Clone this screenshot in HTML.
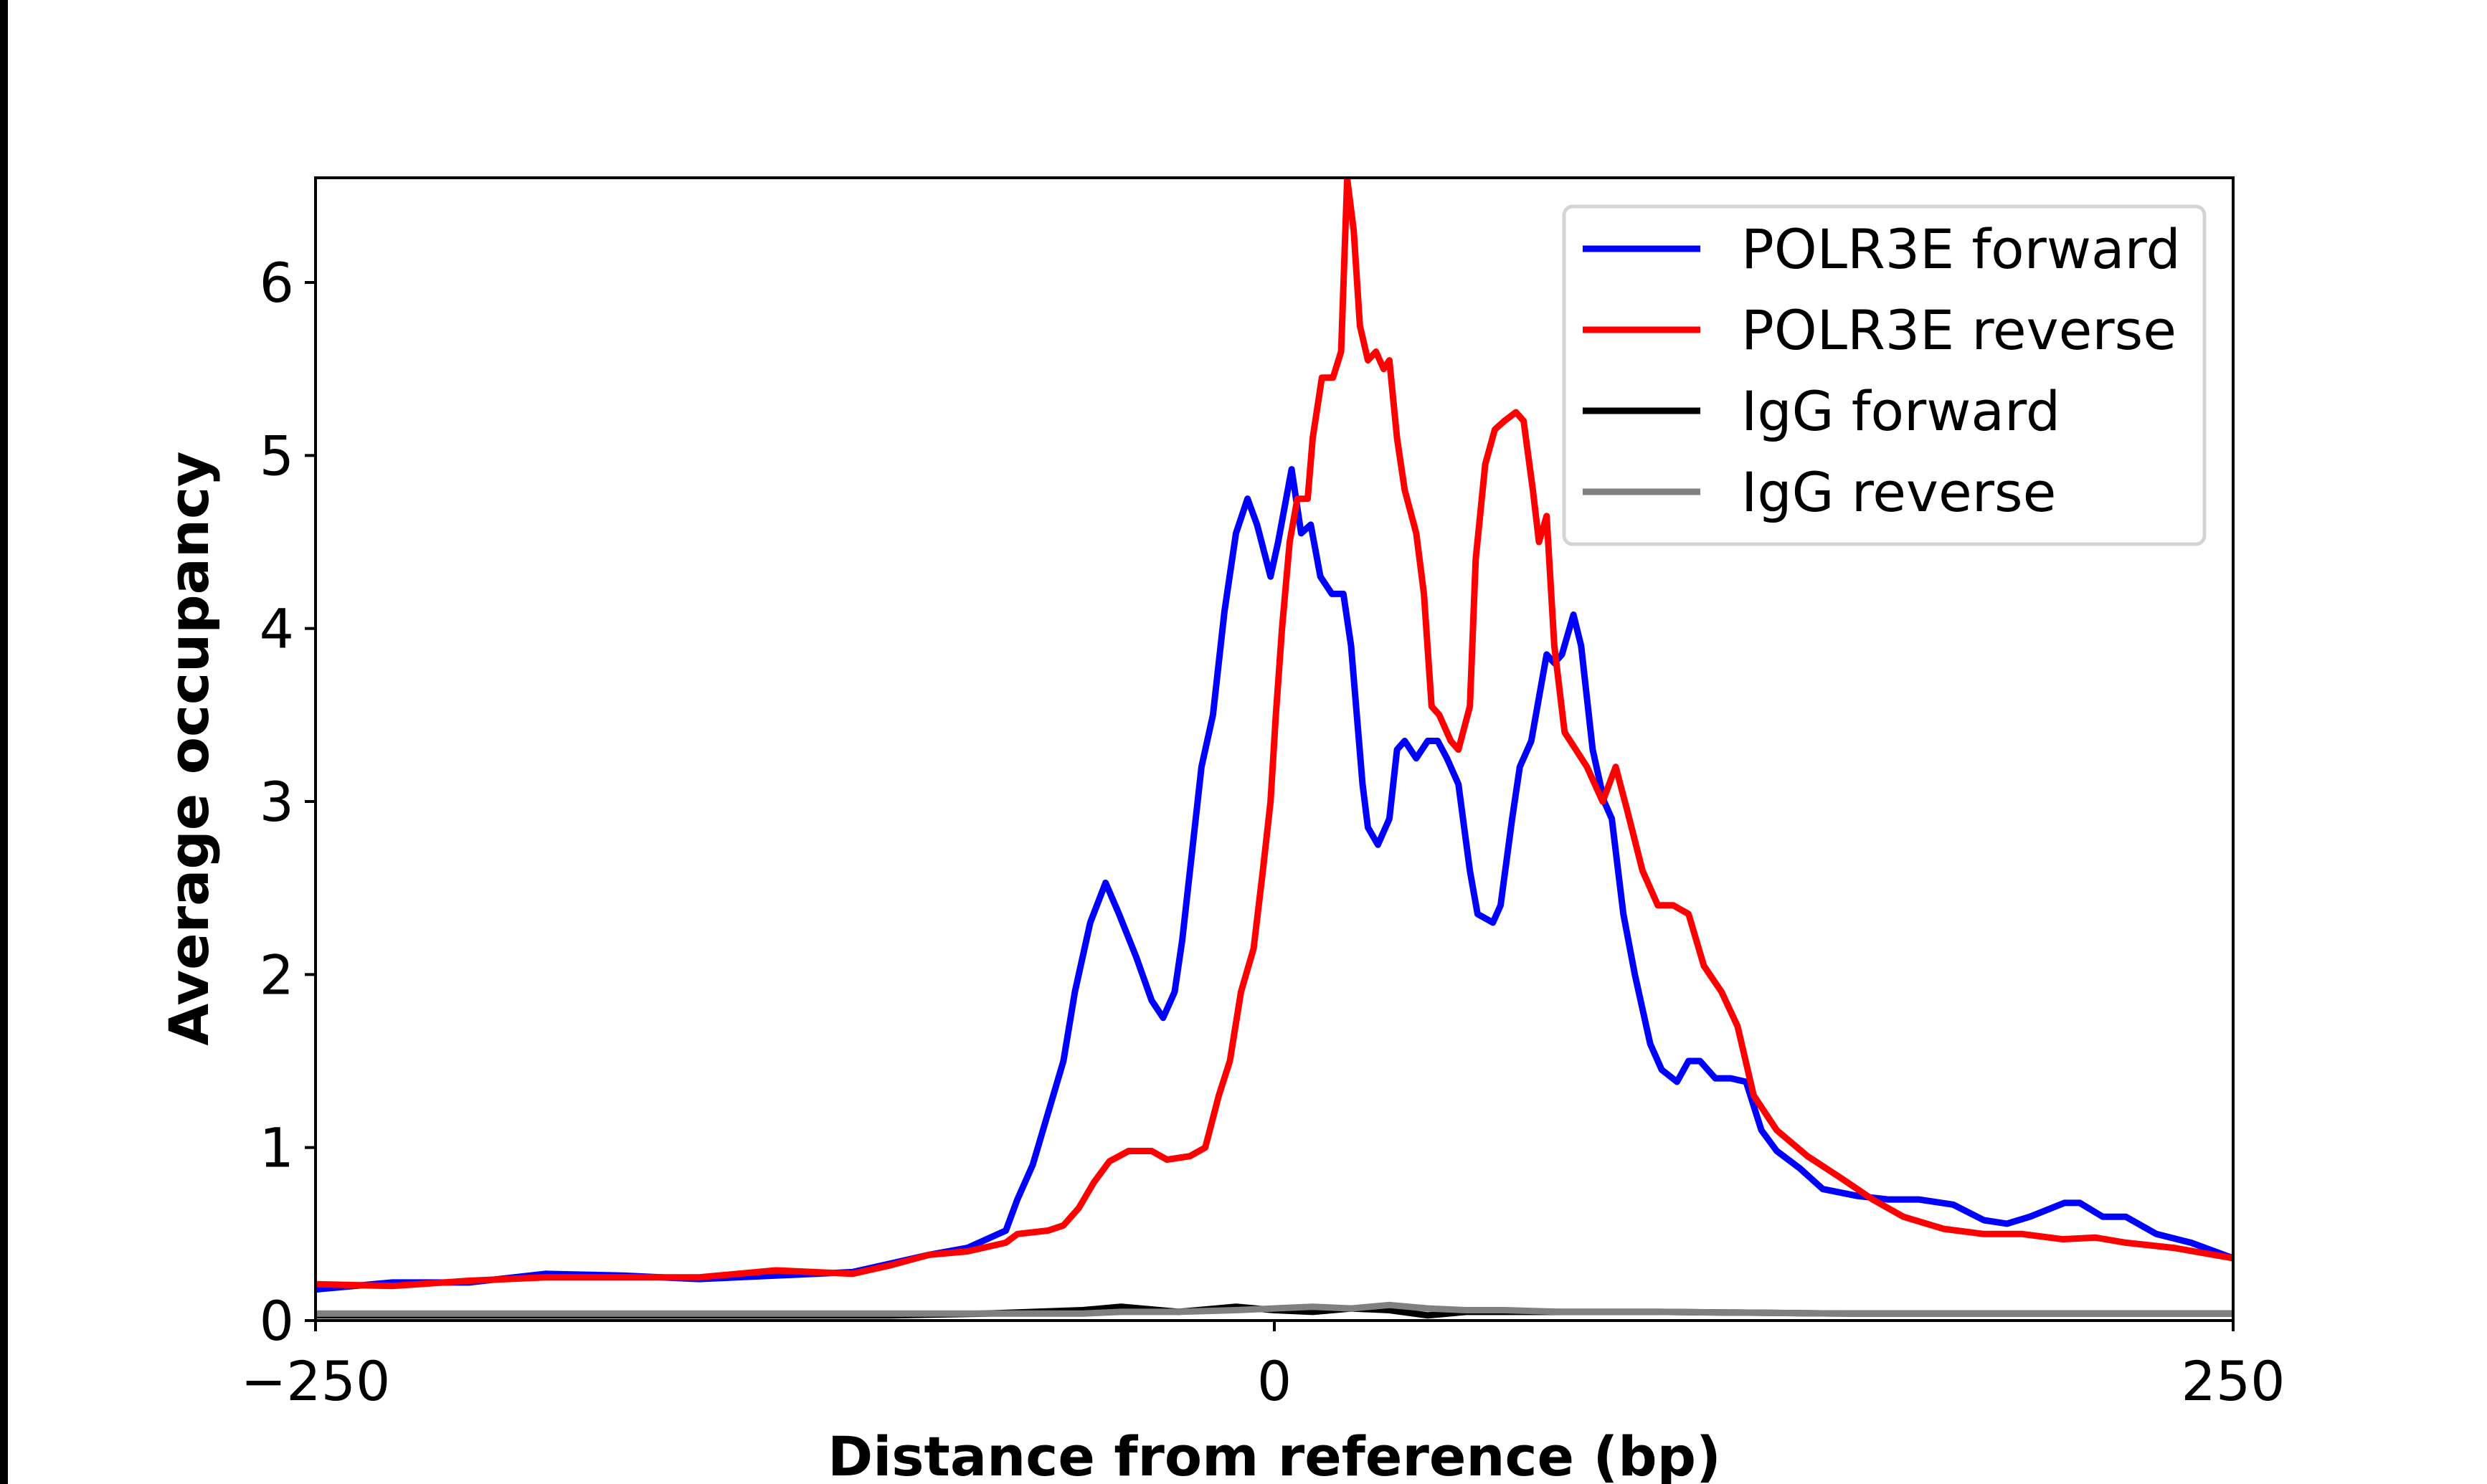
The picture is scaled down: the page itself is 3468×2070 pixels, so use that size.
<!DOCTYPE html>
<html><head><meta charset="utf-8"><style>
html,body{margin:0;padding:0;background:#fff;}
svg{display:block;}
text{font-family:"DejaVu Sans","Liberation Sans",sans-serif;fill:#000;}
</style></head><body>
<svg id="chart" width="3468" height="2070" viewBox="0 0 3468 2070" xmlns="http://www.w3.org/2000/svg">
<rect x="0" y="0" width="3468" height="2070" fill="#fff"/>
<rect x="0" y="0" width="11" height="2070" fill="#000"/>
<g id="plot"></g>
<g id="axes"></g>
<text x="1777" y="2058" font-size="76" font-weight="bold" text-anchor="middle">Distance from reference (bp)</text>
<text transform="translate(290,1044) rotate(-90)" font-size="76" font-weight="bold" text-anchor="middle">Average occupancy</text>
<g>
<rect x="2181" y="288" width="893" height="471" rx="12" fill="#fff" fill-opacity="0.8" stroke="#d4d4d4" stroke-width="5"/>
<line x1="2207" y1="347" x2="2371" y2="347" stroke="#0000ff" stroke-width="9"/>
<text x="2428" y="374" font-size="76">POLR3E forward</text>
<line x1="2207" y1="460" x2="2371" y2="460" stroke="#ff0000" stroke-width="9"/>
<text x="2428" y="487" font-size="76">POLR3E reverse</text>
<line x1="2207" y1="573" x2="2371" y2="573" stroke="#000" stroke-width="9"/>
<text x="2428" y="600" font-size="76">IgG forward</text>
<line x1="2207" y1="686" x2="2371" y2="686" stroke="#808080" stroke-width="9"/>
<text x="2428" y="713" font-size="76">IgG reverse</text>
</g>
</svg>
<script>
const fwdX=[-250,-230,-210,-190,-170,-150,-130,-110,-100,-90,-80,-70,-67,-63,-59,-55,-52,-48,-44,-40.5,-36,-32,-29,-26,-24,-21,-19,-16,-13,-10,-7,-4.5,-1,1,4.5,7,9.5,12,15,18,20,23,24.4,27,30,32,34,37,40,42.6,45,48,51,53,57,59,62,64,67,69,71,73,75,78,80,83,86,88,91,94,98,101,105,108,111,115,119,123,127,131,137,143,152,160,168,177,185,191,197,206,210,216,222,230,239,250];
const fwdY=[0.18,0.22,0.22,0.27,0.26,0.24,0.26,0.28,0.33,0.38,0.42,0.52,0.7,0.9,1.2,1.5,1.9,2.3,2.53,2.35,2.1,1.85,1.75,1.9,2.2,2.8,3.2,3.5,4.1,4.55,4.75,4.6,4.3,4.5,4.92,4.55,4.6,4.3,4.2,4.2,3.9,3.1,2.85,2.75,2.9,3.3,3.35,3.25,3.35,3.35,3.25,3.1,2.6,2.35,2.3,2.4,2.9,3.2,3.35,3.6,3.85,3.8,3.85,4.08,3.9,3.3,3.0,2.9,2.35,2.0,1.6,1.45,1.38,1.5,1.5,1.4,1.4,1.38,1.1,0.98,0.88,0.76,0.72,0.7,0.7,0.67,0.58,0.56,0.6,0.68,0.68,0.6,0.6,0.5,0.45,0.36];
const revX=[-250,-230,-210,-190,-170,-150,-130,-110,-100,-90,-80,-70,-67,-59,-55,-51,-47,-43,-38,-32,-28,-22,-18,-14.5,-11.6,-8.7,-5.4,-3,-1,0.4,2,4,6,8.7,10,12.4,15.3,17.4,19,20.7,22.3,24.4,26.5,28.5,30,32,34,37,39,41,43,46,48,51,52.5,55,57.5,60,63,65,67.4,69,71,73,75.7,78.6,81.5,85.6,89,92,96,100,104,108,112,116.6,120.8,125,131,139,148,156,164,174.5,185,195,205.5,214,222,234.5,250];
const revY=[0.21,0.2,0.23,0.25,0.25,0.25,0.29,0.27,0.32,0.38,0.4,0.45,0.5,0.52,0.55,0.65,0.8,0.92,0.98,0.98,0.93,0.95,1.0,1.3,1.5,1.9,2.15,2.6,3.0,3.5,4.0,4.5,4.75,4.75,5.1,5.45,5.45,5.6,6.6,6.3,5.75,5.55,5.6,5.5,5.55,5.1,4.8,4.55,4.2,3.55,3.5,3.35,3.3,3.55,4.4,4.95,5.15,5.2,5.25,5.2,4.8,4.5,4.65,3.9,3.4,3.3,3.2,3.0,3.2,2.95,2.6,2.4,2.4,2.35,2.05,1.9,1.7,1.3,1.1,0.95,0.82,0.7,0.6,0.53,0.5,0.5,0.47,0.48,0.45,0.42,0.36];
const iggX=[-250,-200,-150,-100,-75,-50,-40,-25,-10,0,10,20,30,40,50,60,75,100,150,200,250];
const iggFwdY=[0.03,0.03,0.03,0.03,0.04,0.06,0.08,0.05,0.08,0.06,0.05,0.07,0.06,0.03,0.05,0.05,0.05,0.05,0.04,0.04,0.04];
const iggRevY=[0.04,0.04,0.04,0.04,0.04,0.04,0.05,0.05,0.06,0.07,0.08,0.07,0.09,0.07,0.06,0.06,0.05,0.05,0.04,0.04,0.04];
const xTicks=[-250,0,250];
const xTickLabels=["\u2212250","0","250"];
const yTicks=[0,1,2,3,4,5,6];

const L=440,R=3114,T=248,B=1842,XMIN=-250,XMAX=250,YMIN=0,YMAX=6.605;
const sx=v=>L+(v-XMIN)/(XMAX-XMIN)*(R-L);
const sy=v=>B-(v-YMIN)/(YMAX-YMIN)*(B-T);
const NS="http://www.w3.org/2000/svg";
const plot=document.getElementById('plot'), axes=document.getElementById('axes');
function mk(tag,attrs,parent){const e=document.createElementNS(NS,tag);for(const k in attrs)e.setAttribute(k,attrs[k]);parent.appendChild(e);return e;}
const clip=mk('clipPath',{id:'pc'},document.getElementById('chart'));
mk('rect',{x:L,y:T,width:R-L,height:B-T},clip);
function series(xs,ys,color,name){
  const d=xs.map((x,i)=>(i?'L':'M')+sx(x).toFixed(1)+' '+sy(ys[i]).toFixed(1)).join(' ');
  const p=mk('path',{d:d,fill:'none',stroke:color,'stroke-width':9,'stroke-linejoin':'round','clip-path':'url(#pc)'},plot);
  
  
}
series(iggX,iggFwdY,'#000000','series-igg-forward');
series(iggX,iggRevY,'#808080','series-igg-reverse');
series(fwdX,fwdY,'#0000ff','series-polr3e-forward');
series(revX,revY,'#ff0000','series-polr3e-reverse');
const frame=mk('rect',{x:L,y:T,width:R-L,height:B-T,fill:'none',stroke:'#000','stroke-width':4},axes);


xTicks.forEach((v,i)=>{
  const t=mk('line',{x1:sx(v),y1:B,x2:sx(v),y2:B+15,stroke:'#000','stroke-width':4},axes);
  
  
  const tx=mk('text',{x:sx(v),y:B+111,'font-size':76,'text-anchor':'middle'},axes);
  tx.textContent=xTickLabels[i];
  
  
});
yTicks.forEach(v=>{
  const t=mk('line',{x1:L-15,y1:sy(v),x2:L,y2:sy(v),stroke:'#000','stroke-width':4},axes);
  
  
  const tx=mk('text',{x:L-30,y:sy(v)+27,'font-size':76,'text-anchor':'end'},axes);
  tx.textContent=String(v);
  
  
});
</script>
</body></html>
